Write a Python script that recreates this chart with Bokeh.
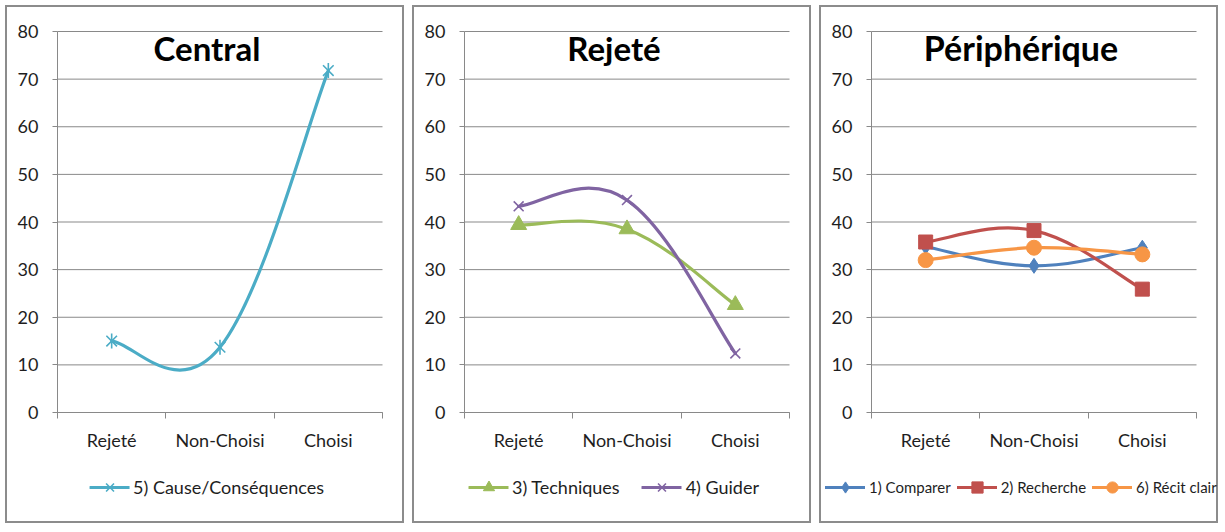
from bokeh.plotting import figure
from bokeh.layouts import row
from bokeh.models import FixedTicker, Legend, LegendItem, Label, Range1d
from bokeh.embed import file_html
from bokeh.resources import INLINE
import math

categories = ["Rejeté", "Non-Choisi", "Choisi"]
y_ticks = [0, 10, 20, 30, 40, 50, 60, 70, 80]

central_cause = [15.0, 13.7, 71.8]
rejete_techniques = [39.4, 38.5, 22.6]
rejete_guider = [43.3, 44.6, 12.4]
peri_comparer = [34.8, 30.8, 34.6]
peri_recherche = [35.8, 38.2, 25.9]
peri_recit = [32.0, 34.6, 33.2]

ncat = len(categories)
xpos = [i + 0.5 for i in range(ncat)]
ymax_val = y_ticks[-1]

# layout constants (pixels)
W, H = 399, 518
X0_PX, XW_PX = 50, 325          # canvas x where category axis starts, its width
Y80_PX, Y0_PX = 24, 405         # canvas y of top value and of zero
PXX = XW_PX / ncat
PXY = (Y0_PX - Y80_PX) / ymax_val

FONT = "Lato"
GRAY = "#898989"
TXT = "#1e1e1e"


def smooth(xs, ys, t=0.2):
    n = len(xs)
    d = dict(x0=[], y0=[], x1=[], y1=[], cx0=[], cy0=[], cx1=[], cy1=[])
    for i in range(n - 1):
        pm = max(i - 1, 0)
        pp = min(i + 2, n - 1)
        d["x0"].append(xs[i]); d["y0"].append(ys[i])
        d["x1"].append(xs[i + 1]); d["y1"].append(ys[i + 1])
        d["cx0"].append(xs[i] + (xs[i + 1] - xs[pm]) * t)
        d["cy0"].append(ys[i] + (ys[i + 1] - ys[pm]) * t)
        d["cx1"].append(xs[i + 1] - (xs[pp] - xs[i]) * t)
        d["cy1"].append(ys[i + 1] - (ys[pp] - ys[i]) * t)
    return d


def make_panel(title, title_size):
    xr = Range1d(-X0_PX / PXX, (W - X0_PX) / PXX)
    yr = Range1d(-(H - Y0_PX) / PXY, ymax_val + Y80_PX / PXY)
    p = figure(width=W, height=H, output_backend="svg", toolbar_location=None,
               x_range=xr, y_range=yr, title=None,
               min_border_left=0, min_border_right=0, min_border_top=0,
               min_border_bottom=0)
    p.outline_line_color = None
    p.background_fill_color = "white"
    p.border_fill_color = "white"
    p.styles = {"border": "2px solid #8c8c8c"}
    p.xgrid.visible = False
    p.ygrid.visible = False

    # horizontal gridlines limited to the category span
    p.segment(x0=[0] * len(y_ticks), x1=[ncat] * len(y_ticks), y0=y_ticks, y1=y_ticks,
              line_color=GRAY, line_width=1)

    xa = p.xaxis[0]
    xa.fixed_location = 0
    xa.bounds = (0, ncat)
    xa.ticker = FixedTicker(ticks=xpos, minor_ticks=list(range(ncat + 1)))
    xa.major_label_overrides = {x: c for x, c in zip(xpos, categories)}
    xa.major_tick_out = 0
    xa.major_tick_in = 0
    xa.minor_tick_out = 6
    xa.minor_tick_in = 0
    xa.minor_tick_line_color = GRAY
    xa.axis_line_color = GRAY
    xa.major_label_standoff = 10
    xa.major_label_text_font = FONT
    xa.major_label_text_font_size = "18px"
    xa.major_label_text_color = TXT

    ya = p.yaxis[0]
    ya.fixed_location = 0
    ya.bounds = (0, ymax_val)
    ya.ticker = FixedTicker(ticks=y_ticks)
    ya.major_tick_out = 5
    ya.major_tick_in = 0
    ya.minor_tick_out = 0
    ya.minor_tick_in = 0
    ya.major_tick_line_color = GRAY
    ya.axis_line_color = GRAY
    ya.major_label_standoff = 14
    ya.major_label_text_font = FONT
    ya.major_label_text_font_size = "18px"
    ya.major_label_text_color = TXT

    xc = (W / 2 - X0_PX) / PXX
    yc = ymax_val - (40 - Y80_PX) / PXY
    p.add_layout(Label(x=xc, y=yc, text=title, text_font=FONT, text_font_style="bold",
                       text_font_size=title_size, text_align="center", text_baseline="middle",
                       text_color="black"))
    return p


def series(p, ys, color, marker, size, lw=3.2):
    seg = smooth(xpos, ys)
    r_line = p.bezier(x0="x0", y0="y0", x1="x1", y1="y1", cx0="cx0", cy0="cy0",
                      cx1="cx1", cy1="cy1", source=seg, line_color=color,
                      line_width=lw, line_cap="round")
    rs = [r_line]
    if marker == "star":
        rs.append(p.scatter(xpos, ys, marker="x", size=size, line_color=color, line_width=1.6))
        rs.append(p.scatter(xpos, ys, marker="dash", size=size, angle=math.pi / 2,
                            line_color=color, line_width=1.6))
    elif marker == "x":
        rs.append(p.scatter(xpos, ys, marker="x", size=size, line_color=color, line_width=1.6))
    else:
        rs.append(p.scatter(xpos, ys, marker=marker, size=size, fill_color=color,
                            line_color=color))
    return rs


def add_legend(p, items, location, margin, spacing, fsize):
    lg = Legend(items=[LegendItem(label=l, renderers=r) for l, r in items],
                orientation="horizontal", location=location,
                label_text_font=FONT, label_text_font_size=fsize,
                label_text_color=TXT, glyph_width=40, glyph_height=28,
                label_standoff=4, spacing=spacing, margin=margin, padding=2,
                border_line_color=None, background_fill_alpha=0)
    p.add_layout(lg)


p1 = make_panel("Central", "33px")
r = series(p1, central_cause, "#4BACC6", "star", 15)
add_legend(p1, [("5) Cause/Conséquences", r)], "bottom_center", 24, 20, "18px")

p2 = make_panel("Rejeté", "33px")
r_t = series(p2, rejete_techniques, "#9BBB59", "triangle", 16)
r_g = series(p2, rejete_guider, "#8064A2", "x", 14)
add_legend(p2, [("3) Techniques", r_t), ("4) Guider", r_g)], "bottom_center", 24, 22, "18px")

p3 = make_panel("Périphérique", "34px")
r_c = series(p3, peri_comparer, "#4F81BD", "diamond", 15)
r_r = series(p3, peri_recherche, "#C0504D", "square", 14)
r_k = series(p3, peri_recit, "#F79646", "circle", 15)
add_legend(p3, [("1) Comparer", r_c), ("2) Recherche", r_r), ("6) Récit clair", r_k)],
           (4, 24), 0, 6, "15px")

layout = row(p1, p2, p3, spacing=8, margin=(5, 0, 0, 5))
open("out.html", "w").write(file_html(layout, INLINE))
